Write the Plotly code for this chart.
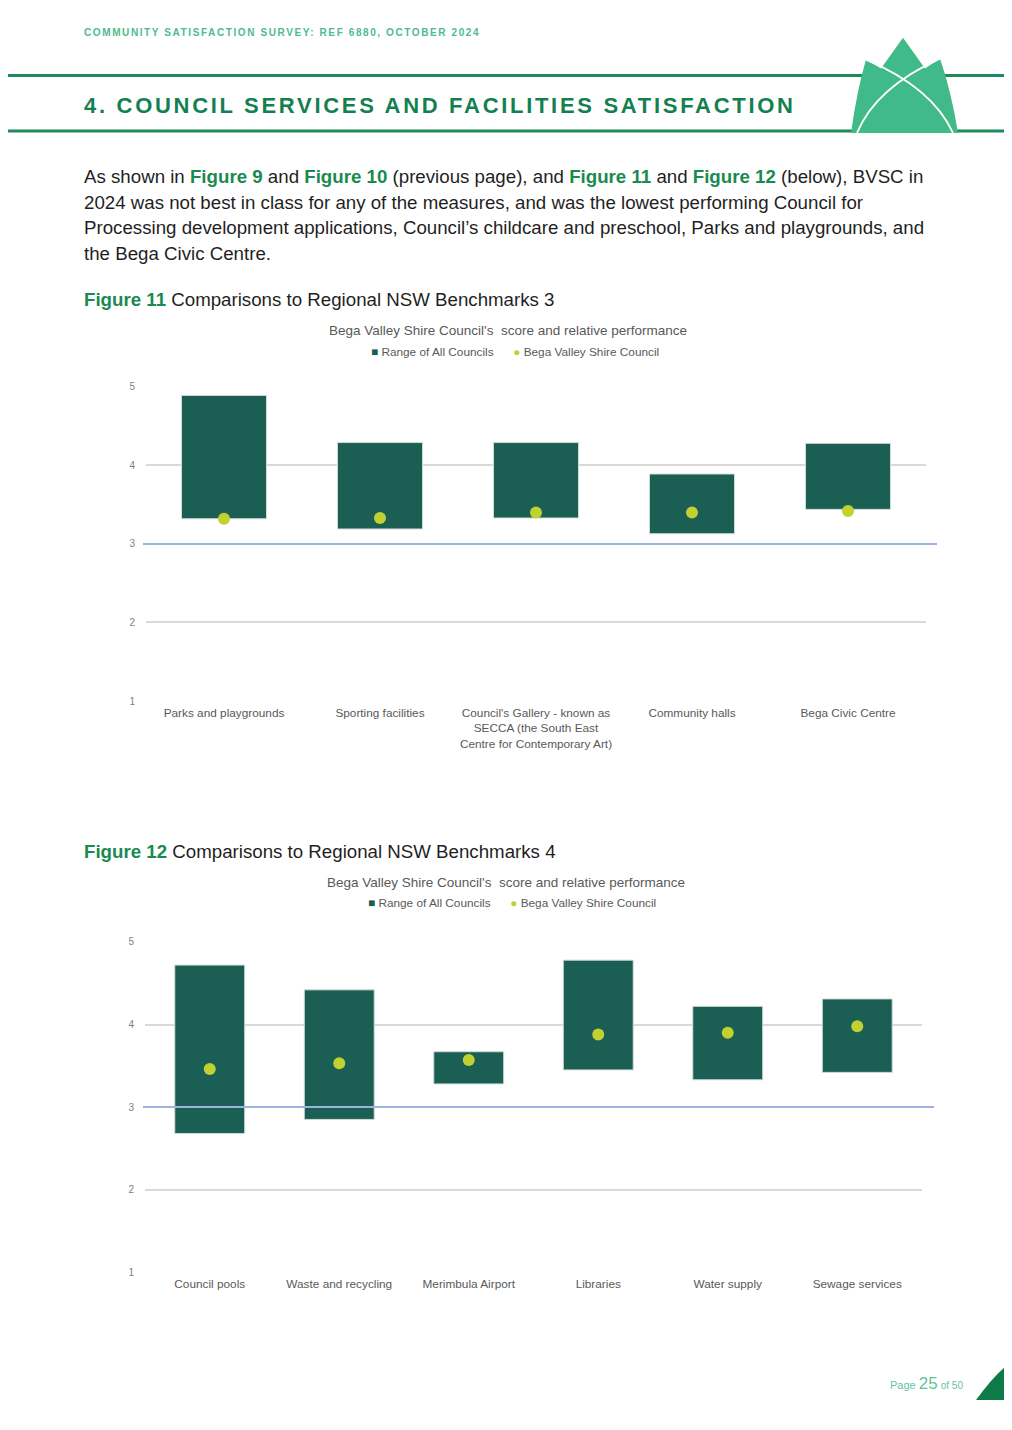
import plotly.graph_objects as go

# page is 1012x1430; the html body has an 8px margin, so the figure is drawn smaller
PAGE_W, PAGE_H = 1012, 1430
OFF = 8
W, H = PAGE_W - 2 * OFF, 1400

# ---------------- data ----------------
cats1 = ["Parks and playgrounds", "Sporting facilities",
         "Council's Gallery - known as SECCA (the South East Centre for Contemporary Art)",
         "Community halls", "Bega Civic Centre"]
ticks1 = ["Parks and playgrounds", "Sporting facilities",
          "Council's Gallery - known as<br>SECCA (the South East<br>Centre for Contemporary Art)",
          "Community halls", "Bega Civic Centre"]
min1 = [3.32, 3.19, 3.33, 3.13, 3.44]
max1 = [4.89, 4.29, 4.29, 3.89, 4.28]
bvsc1 = [3.32, 3.33, 3.40, 3.40, 3.42]

cats2 = ["Council pools", "Waste and recycling", "Merimbula Airport",
         "Libraries", "Water supply", "Sewage services"]
min2 = [2.68, 2.85, 3.28, 3.45, 3.33, 3.42]
max2 = [4.72, 4.42, 3.67, 4.78, 4.22, 4.31]
bvsc2 = [3.46, 3.53, 3.57, 3.88, 3.90, 3.98]

y_ticks = [1, 2, 3, 4, 5]
benchmark = 3

# ---------------- styles ----------------
BAR = "#1b5e54"
DOT = "#c0d130"
GRID = "#d9d9d9"
BLUE = "#9cb3e2"
GREEN_LIGHT = "#4dbb8f"
GREEN_DARK = "#13804f"
GREEN_FIG = "#1a8a50"
LOGO = "#3fba88"
TEXT = "#1f1f1f"
FONT = "Liberation Sans, Arial, sans-serif"


def px(x):
    return (x - OFF) / W


def py(y):
    return 1 - (y - OFF) / H


fig = go.Figure()

fig.add_trace(go.Bar(x=cats1, y=[a - b for a, b in zip(max1, min1)], base=min1,
                     width=0.545, marker=dict(color=BAR, line=dict(color="#cfdcd8", width=1)),
                     name="Range of All Councils", xaxis="x", yaxis="y", showlegend=False))
fig.add_trace(go.Scatter(x=cats1, y=bvsc1, mode="markers",
                         marker=dict(color=DOT, size=12, line=dict(width=0)),
                         name="Bega Valley Shire Council", xaxis="x", yaxis="y", showlegend=False))
fig.add_trace(go.Bar(x=cats2, y=[a - b for a, b in zip(max2, min2)], base=min2,
                     width=0.54, marker=dict(color=BAR, line=dict(color="#cfdcd8", width=1)),
                     name="Range of All Councils", xaxis="x2", yaxis="y2", showlegend=False))
fig.add_trace(go.Scatter(x=cats2, y=bvsc2, mode="markers",
                         marker=dict(color=DOT, size=12, line=dict(width=0)),
                         name="Bega Valley Shire Council", xaxis="x2", yaxis="y2", showlegend=False))

axis_common_y = dict(range=[1, 5], tickvals=y_ticks, showgrid=True, gridcolor=GRID, gridwidth=1.5,
                     zeroline=False, showline=False, ticks="", ticklabelstandoff=10,
                     tickfont=dict(family=FONT, size=10, color="#7f7f7f"), fixedrange=True)
axis_common_x = dict(showgrid=False, zeroline=False, showline=False, ticks="",
                     tickfont=dict(family=FONT, size=11.8, color="#595959"), fixedrange=True,
                     tickangle=0, ticklabelstandoff=3)

fig.update_layout(
    width=W, height=H, margin=dict(l=0, r=0, t=0, b=0),
    paper_bgcolor="white", plot_bgcolor="white", showlegend=False,
    xaxis=dict(domain=[px(146), px(926)], anchor="y", tickvals=cats1, ticktext=ticks1, **axis_common_x),
    yaxis=dict(domain=[py(701), py(384)], anchor="x", **axis_common_y),
    xaxis2=dict(domain=[px(145), px(922)], anchor="y2", **axis_common_x),
    yaxis2=dict(domain=[py(1277), py(944)], anchor="x2", **axis_common_y),
)

shapes = []
shapes.append(dict(type="line", xref="paper", yref="y", x0=px(143), x1=px(937),
                   y0=benchmark, y1=benchmark, line=dict(color=BLUE, width=2), layer="above"))
shapes.append(dict(type="line", xref="paper", yref="y2", x0=px(143), x1=px(934),
                   y0=benchmark, y1=benchmark, line=dict(color=BLUE, width=2), layer="above"))
for yy in (70, 126):
    shapes.append(dict(type="line", xref="paper", yref="paper", x0=0, x1=1,
                       y0=py(yy), y1=py(yy), line=dict(color="#1d8a5c", width=3)))


def P(x, y):
    return f"{px(x):.5f},{py(y):.5f}"


shapes.append(dict(type="path", xref="paper", yref="paper",
                    path=(f"M {P(851,128)} Q {P(857,85)} {P(866,54)} "
                          f"L {P(881,63)} L {P(903,32)} L {P(925,63)} "
                          f"L {P(940,53)} Q {P(951,85)} {P(958,128)} Z"),
                    fillcolor=LOGO, line=dict(width=0)))
shapes.append(dict(type="path", xref="paper", yref="paper",
                    path=f"M {P(857,128)} Q {P(876,82)} {P(940,53)}",
                    line=dict(color="white", width=1.8)))
shapes.append(dict(type="path", xref="paper", yref="paper",
                    path=f"M {P(953,128)} Q {P(932,82)} {P(866,54)}",
                    line=dict(color="white", width=1.8)))
shapes.append(dict(type="path", xref="paper", yref="paper",
                    path=(f"M {P(976,1406)} Q {P(996,1378)} {P(1012,1367)} L {P(1012,1406)} Z"),
                    fillcolor="#0e7a47", line=dict(width=0)))
fig.update_layout(shapes=shapes)

ann = []


def text(x, y, t, size, color=TEXT, anchor="left", family=FONT):
    ann.append(dict(x=px(x), y=py(y), xref="paper", yref="paper", text=t, showarrow=False,
                    xanchor=anchor, yanchor="middle", align=anchor,
                    font=dict(family=family, size=size, color=color)))


def g(s):
    return f"<b><span style='color:{GREEN_FIG}'>{s}</span></b>"


text(82, 27, "<b><span style='letter-spacing:1.6px'>COMMUNITY SATISFACTION SURVEY: REF 6880, OCTOBER 2024</span></b>",
     10, GREEN_LIGHT)
text(82, 100, "<b><span style='letter-spacing:2.7px'>4. COUNCIL SERVICES AND FACILITIES SATISFACTION</span></b>",
     22, GREEN_DARK)

lines = [
    f"As shown in {g('Figure 9')} and {g('Figure 10')} (previous page), and {g('Figure 11')} and {g('Figure 12')} (below), BVSC in",
    "2024 was not best in class for any of the measures, and was the lowest performing Council for",
    "Processing development applications, Council’s childcare and preschool, Parks and playgrounds, and",
    "the Bega Civic Centre.",
]
for i, l in enumerate(lines):
    text(82, 172 + i * 25.7, l, 18.7)

text(82, 296, f"{g('Figure 11')} Comparisons to Regional NSW Benchmarks 3", 18.7)
text(82, 853, f"{g('Figure 12')} Comparisons to Regional NSW Benchmarks 4", 18.7)

leg = (f"<span style='color:{BAR}'>■</span> Range of All Councils      "
       f"<span style='color:{DOT}'>●</span> Bega Valley Shire Council")
text(508, 327, "Bega Valley Shire Council's  score and relative performance", 13.5, "#595959", "center")
text(515, 349, leg, 11.8, "#595959", "center")
text(506, 884, "Bega Valley Shire Council's  score and relative performance", 13.5, "#595959", "center")
text(512, 905, leg, 11.8, "#595959", "center")

text(965, 1389, f"Page <span style='font-size:17px'>25</span> <span style='font-size:10px'>of 50</span>",
     11, "#62c49b", "right")

fig.update_layout(annotations=ann)
fig.write_html("out.html")
